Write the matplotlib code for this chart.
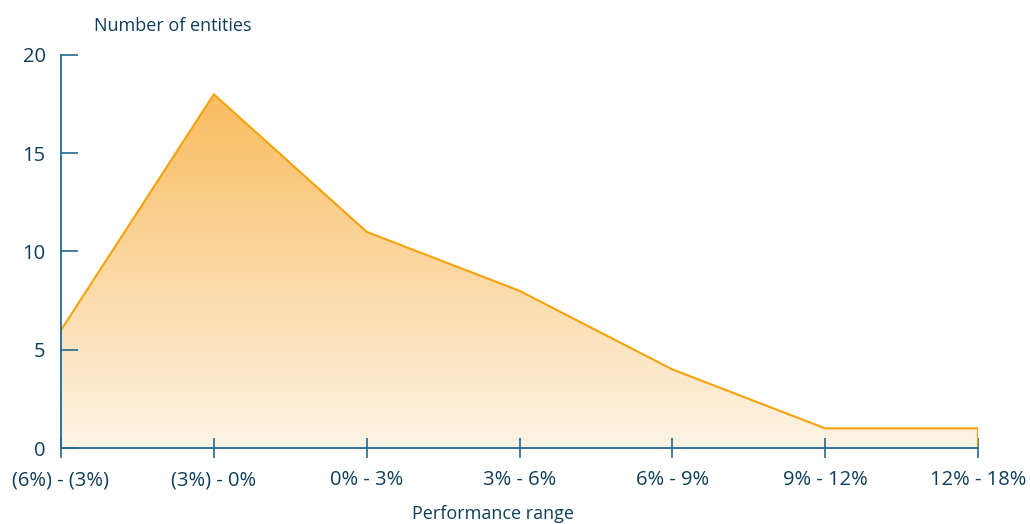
import numpy as np
import matplotlib.pyplot as plt
from matplotlib.colors import LinearSegmentedColormap
from matplotlib.patches import Polygon

categories = ["(6%) - (3%)", "(3%) - 0%", "0% - 3%", "3% - 6%", "6% - 9%", "9% - 12%", "12% - 18%"]
entities = [6, 18, 11, 8, 4, 1, 1]
y_ticks = [0, 5, 10, 15, 20]

TEXT = "#0e3f5a"
AXIS = "#1f6a93"
LINE = "#f5a20a"

plt.rcParams['font.family'] = ['Open Sans', 'DejaVu Sans']

fig = plt.figure(figsize=(10.30, 5.24), dpi=100)
ax = fig.add_axes([61 / 1030, 76 / 524, (978 - 61) / 1030, (448 - 55) / 524])

x = np.arange(len(categories))

# Vertical gradient clipped to the area under the curve
cmap = LinearSegmentedColormap.from_list("fade", ["#fdf4e6", "#f9bc5f"])
ymax = max(entities)
grad = np.linspace(0, 1, 256).reshape(-1, 1)
img = ax.imshow(grad, cmap=cmap, aspect='auto', origin='lower',
                extent=[x[0], x[-1], 0, ymax], zorder=1)
verts = [(x[0], 0)] + list(zip(x, entities)) + [(x[-1], 0)]
poly = Polygon(verts, closed=True, facecolor='none', edgecolor='none')
ax.add_patch(poly)
img.set_clip_path(poly)
ax.plot(np.r_[x, x[-1]], np.r_[entities, 0], color=LINE, lw=1.5, zorder=3)
ax.set_ylim(0, 20)
ax.set_xlim(0, len(categories) - 1)

for s in ['top', 'right']:
    ax.spines[s].set_visible(False)
for s in ['left', 'bottom']:
    ax.spines[s].set_color(AXIS)
    ax.spines[s].set_linewidth(1.3)
    ax.spines[s].set_zorder(4)

ax.set_yticks(y_ticks)
ax.set_xticks(x)
ax.set_xticklabels(categories)
ax.tick_params(axis='y', direction='in', length=12, width=1.2, color=AXIS,
               labelsize=14.5, labelcolor=TEXT, pad=11)
ax.tick_params(axis='x', direction='inout', length=14, width=1.2, color=AXIS,
               labelsize=14.5, labelcolor=TEXT, pad=9)

fig.text(173 / 1030, 1 - 26 / 524, "Number of entities", ha='center', va='center',
         fontsize=13, color=TEXT)
fig.text(493 / 1030, 1 - 514 / 524, "Performance range", ha='center', va='center',
         fontsize=13, color=TEXT)

fig.savefig("out.png", dpi=100)
